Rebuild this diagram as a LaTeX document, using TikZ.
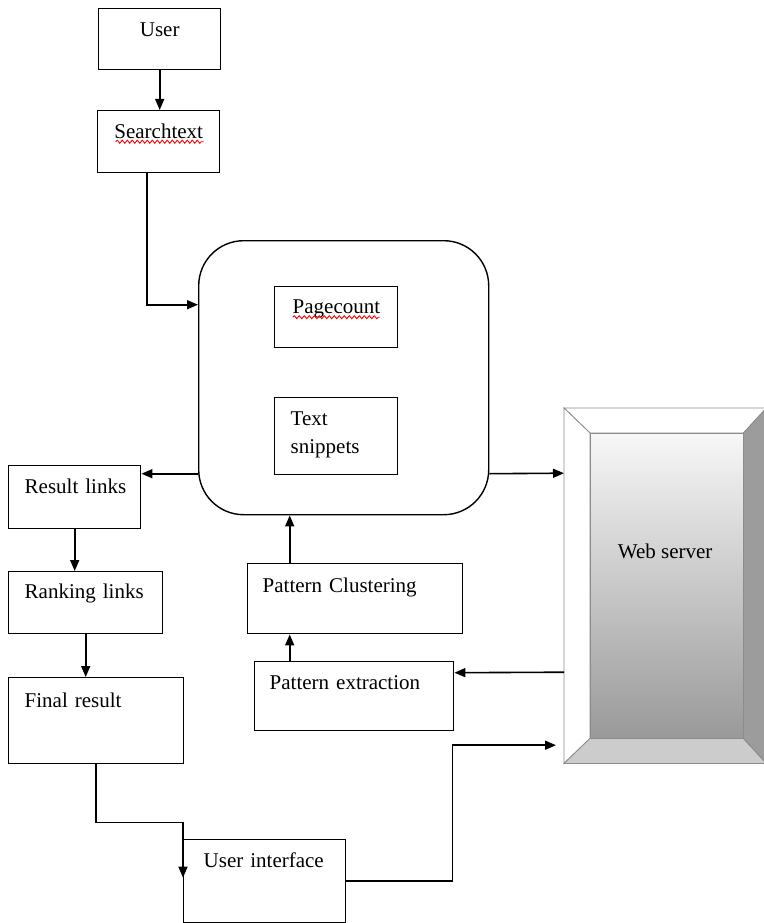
\documentclass[tikz,border=0pt]{standalone}
\usepackage{fontspec}
\setmainfont{Liberation Serif}
\usetikzlibrary{arrows.meta,backgrounds,decorations.pathmorphing}
\begin{document}
\begin{tikzpicture}[x=1pt, y=-1pt,
    box/.style={draw, line width=1.4pt, inner ysep=0pt, anchor=north west, align=left, font=\fontsize{21}{28}\selectfont},
    boxdim/.style n args={4}{inner xsep=#1, text width=#2, text height=#3, text depth=#4},
    arr/.style={line width=1.6pt, -{Triangle[length=11pt,width=9pt]}},
    bevel/.style={draw=gray!90, line width=0.8pt},
    squig/.style={red, line width=0.9pt, decorate, decoration={snake, amplitude=1.5pt, segment length=5pt}}]
    \useasboundingbox (0,0) rectangle (763,923);
    % left column
    \node[box, align=center, boxdim={4pt}{114pt}{28pt}{33pt}] (user) at (98,8) {User};
    \node[box, align=center, boxdim={4pt}{114pt}{28pt}{34pt}] (stext) at (97,110) {Searchtext};
    \node[box, boxdim={16pt}{100pt}{28pt}{35pt}] (resl) at (8,465) {\mbox{Result links}};
    \node[box, boxdim={16pt}{122pt}{27pt}{35pt}] (rank) at (8,571) {Ranking links};
    \node[box, boxdim={16pt}{143pt}{30pt}{56pt}] (final) at (8,677) {Final result};
    \node[box, boxdim={20pt}{122pt}{28pt}{55pt}] (ui) at (183,839) {User interface};
    % search engine block
    \node[draw, line width=1.4pt, rounded corners=45pt, anchor=north west, minimum width=290pt, minimum height=274pt] (core) at (198,240) {};
    \node[box, boxdim={18pt}{87pt}{27pt}{34pt}] (pcount) at (274,286) {Pagecount};
    \node[box, boxdim={16pt}{91pt}{28pt}{49pt}] (snip) at (274,397) {Text\\snippets};
    \node[box, boxdim={15pt}{185pt}{29pt}{41pt}] (pclu) at (247,563) {Pattern Clustering};
    \node[box, boxdim={15pt}{169pt}{28pt}{41pt}] (pext) at (254,661) {Pattern extraction};
    % web server
    \node[inner sep=0pt, anchor=north west, minimum width=202pt, text height=150pt, text depth=205pt, font=\fontsize{21}{28}\selectfont] (web) at (564,408) {Web server};
    \begin{scope}[on background layer]
        \coordinate (w1) at ([shift={(26,25)}]web.north west);
        \coordinate (w2) at ([shift={(-23,25)}]web.north east);
        \coordinate (w3) at ([shift={(-23,-25)}]web.south east);
        \coordinate (w4) at ([shift={(26,-25)}]web.south west);
        \draw[bevel, fill=white] (web.north west) -- (web.north east) -- (w2) -- (w1) -- cycle;
        \draw[bevel, fill=white] (web.north west) -- (w1) -- (w4) -- (web.south west) -- cycle;
        \draw[bevel, fill=gray!40] (web.south west) -- (w4) -- (w3) -- (web.south east) -- cycle;
        \draw[bevel, fill=gray!78] (web.north east) -- (w2) -- (w3) -- (web.south east) -- cycle;
        \shade[top color=gray!6, bottom color=gray!80] (w1) rectangle (w3);
        \draw[bevel] (w1) rectangle (w3);
    \end{scope}
    % spelling marks
    \draw[squig] ([xshift=-43pt]stext.center) -- ++(88,0);
    \draw[squig] ([xshift=-43.5pt]pcount.center) -- ++(87,0);
    % connectors
    \draw[arr] (user.south) -- (user.south |- stext.north);
    \draw[arr] ([xshift=-12pt]stext.south) |- ([yshift=73pt]core.west);
    \draw[arr] ([yshift=-96pt]core.west) -- ([yshift=23.5pt]resl.east);
    \draw[arr] ([yshift=-96pt]core.east) -- ([yshift=112.5pt]web.west);
    \draw[arr] ([yshift=-86.5pt]web.west) -- ([yshift=23.5pt]pext.east);
    \draw[arr] ([xshift=-64.5pt]pext.north) -- ([xshift=-64.5pt]pext.north |- pclu.south);
    \draw[arr] ([xshift=-65.5pt]pclu.north) -- ([xshift=-65.5pt]pclu.north |- core.south);
    \draw[arr] (resl.south) -- (resl.south |- rank.north);
    \draw[arr] (rank.south) -- (rank.south |- final.north);
    \draw[arr] (final.south) -- ++(0,58) -| ([yshift=3.5pt]ui.west);
    \draw[arr] (ui.east) -- ++(106,0) |- ([xshift=-8pt,yshift=-159.5pt]web.west);
\end{tikzpicture}
\end{document}
